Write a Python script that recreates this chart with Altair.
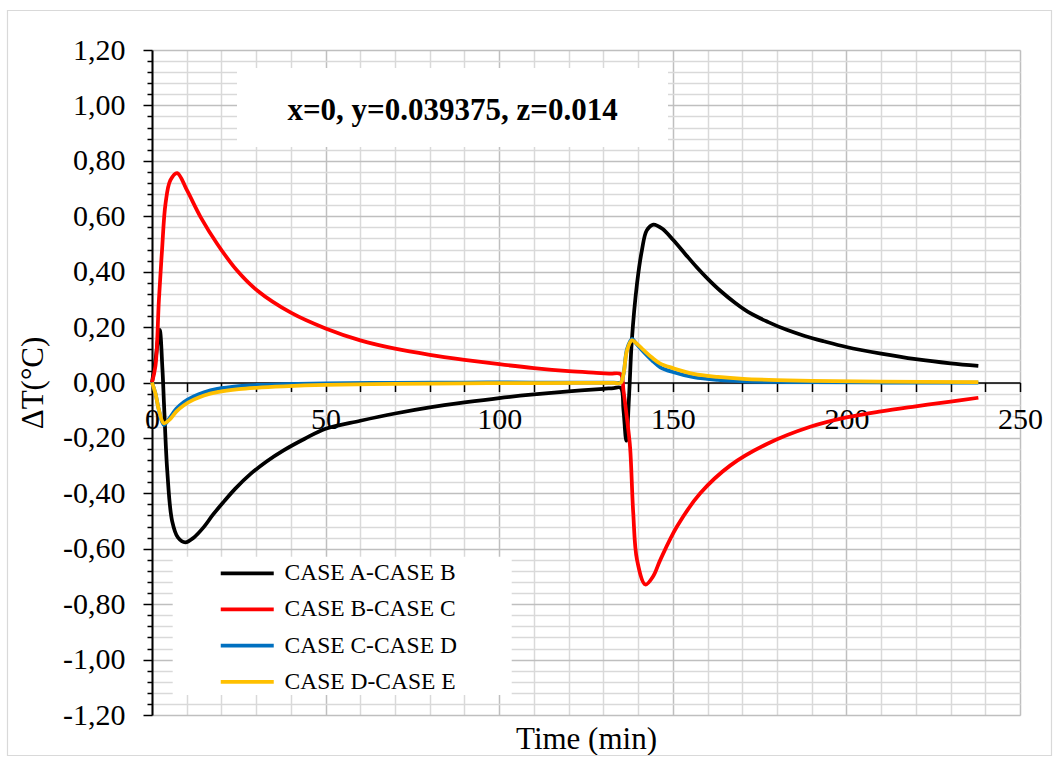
import altair as alt
import pandas as pd

# Series names and their line colours
SERIES = ["CASE A-CASE B", "CASE B-CASE C", "CASE C-CASE D", "CASE D-CASE E"]
COLORS = ["#000000", "#ff0000", "#0070c0", "#ffc000"]

# CASE A-CASE B
t_ab = [0, 1, 2.2, 3.0, 3.5, 4.4, 5.8, 7.5, 9.6, 12, 14.9, 17.5, 20.7, 24, 28.4,
        33, 37.9, 44, 50, 60, 70, 80, 90, 100, 110, 120, 130, 133, 135,
        135.8, 136.6, 137.4, 138.2, 139.7, 141.1, 142.5, 144.4, 147, 150.2,
        153.5, 156.9, 160, 163.6, 168, 172.3, 177.5, 182.8, 188, 193.4, 200,
        210, 220, 230, 238]
dt_ab = [0, 0.08, 0.19, 0.05, -0.09, -0.32, -0.50, -0.56, -0.577, -0.56, -0.522,
         -0.478, -0.43, -0.383, -0.33, -0.285, -0.245, -0.203, -0.167, -0.138,
         -0.112, -0.090, -0.072, -0.056, -0.043, -0.032, -0.023, -0.020, -0.019,
         -0.10, -0.21, -0.05, 0.152, 0.357, 0.477, 0.549, 0.570, 0.555, 0.513,
         0.465, 0.416, 0.375, 0.332, 0.287, 0.250, 0.218, 0.190, 0.168, 0.149,
         0.128, 0.104, 0.084, 0.069, 0.060]

# CASE B-CASE C
t_bc = [0, 1.0, 2.0, 2.9, 3.9, 5.3, 7.25, 10.1, 14, 18.8, 24.5, 30.3, 40, 50,
        60, 70, 80, 90, 100, 110, 120, 128, 132, 135, 135.8, 136.8, 137.7, 138.6,
        139.7, 142.1, 144.3, 146.4, 151.2, 157.9, 166.5, 177.1, 189.6, 200, 210,
        220, 230, 238]
dt_bc = [0, 0.06, 0.30, 0.48, 0.646, 0.73, 0.756, 0.693, 0.597, 0.50, 0.404,
         0.332, 0.252, 0.195, 0.152, 0.122, 0.100, 0.082, 0.066, 0.052, 0.041,
         0.035, 0.032, 0.030, -0.03, -0.13, -0.234, -0.47, -0.64, -0.729, -0.70,
         -0.64, -0.52, -0.40, -0.30, -0.222, -0.160, -0.126, -0.104, -0.086,
         -0.069, -0.055]

# CASE C-CASE D and CASE D-CASE E share the same time steps
t_cd = [0, 1, 2, 3.4, 5, 7, 9.2, 12, 15, 18.8, 25, 30, 37.9, 50, 70, 90, 110,
        125, 133, 135, 135.8, 136.8, 138.2, 139.5, 141.6, 144, 146.4, 150, 156,
        163, 170.3, 180, 190, 210, 238]
dt_cd = [0, -0.04, -0.10, -0.153, -0.13, -0.095, -0.07, -0.05, -0.035, -0.023,
         -0.013, -0.009, -0.006, -0.003, -0.001, 0, 0, 0, 0, 0, 0.03, 0.12,
         0.157, 0.14, 0.110, 0.08, 0.055, 0.038, 0.019, 0.009, 0.004, 0.002,
         0.001, 0, 0]
t_de = t_cd
dt_de = [0, -0.04, -0.10, -0.147, -0.135, -0.105, -0.082, -0.062, -0.047,
         -0.035, -0.024, -0.019, -0.014, -0.009, -0.005, -0.003, -0.002,
         -0.001, -0.001, -0.001, 0.03, 0.115, 0.152, 0.142, 0.117, 0.09, 0.068,
         0.052, 0.031, 0.020, 0.013, 0.009, 0.006, 0.003, 0.001]

TITLE = "x=0, y=0.039375, z=0.014"

frames = []
for name, ts, vs in zip(SERIES, [t_ab, t_bc, t_cd, t_de], [dt_ab, dt_bc, dt_cd, dt_de]):
    frames.append(pd.DataFrame({"t": ts, "dT": vs, "series": name}))
df = pd.concat(frames, ignore_index=True)

FONT = "Liberation Serif"
W, H = 868, 665

x_ticks = list(range(0, 251, 10))
y_ticks = [round(-1.2 + 0.04 * i, 2) for i in range(61)]
y_major = "abs(datum.value*5 - round(datum.value*5)) < 0.001"

x_axis = alt.Axis(
    values=x_ticks,
    grid=True,
    gridColor={"condition": {"test": "datum.value % 50 === 0", "value": "#bfbfbf"},
               "value": "#d9d9d9"},
    gridWidth=1.5,
    domainColor="black", domainWidth=1.5,
    tickColor="black", tickWidth=1.5, tickSize=9,
    labelExpr="datum.value % 50 === 0 ? datum.label : ''",
    labelFont=FONT, labelFontSize=30, labelColor="black",
    labelPadding=13, labelFlush=False, labelOverlap=False,
    offset=-332.5,
    title="Time (min)", titleFont=FONT, titleFontSize=31,
    titleFontWeight="normal", titleColor="black",
    titleBaseline="alphabetic", titleY=366,
)

y_axis = alt.Axis(
    values=y_ticks,
    grid=True,
    gridColor={"condition": {"test": y_major, "value": "#bfbfbf"}, "value": "#d9d9d9"},
    gridWidth=1.5,
    domainColor="black", domainWidth=2,
    tickColor="black", tickWidth=1.5,
    tickSize={"condition": {"test": y_major, "value": 9}, "value": 5},
    labelExpr=("(" + y_major + ") ? ((datum.value < -0.0001 ? '-' : '') + "
               "replace(format(abs(datum.value), '.2f'), '.', ',')) : ''"),
    labelFont=FONT, labelFontSize=30, labelColor="black",
    labelPadding=18, labelFlush=False, labelOverlap=False,
    title="\u0394T(\u00b0C)", titleFont=FONT, titleFontSize=31,
    titleFontWeight="normal", titleColor="black",
    titleX=-119, titleY=H / 2, titleBaseline="middle", titleAlign="center",
    titleAngle=270,
)

# Long horizontal stroke symbol drawn from a custom path
legend = alt.Legend(
    title=None, orient="none", legendX=83.5, legendY=511.5,
    symbolType="M-4,0H4", symbolSize=175.6, symbolStrokeWidth=3.75,
    labelFont=FONT, labelFontSize=23.5, labelColor="black",
    labelLimit=400, labelOffset=25.5, rowPadding=11.2, padding=0,
)

lines = alt.Chart(df).mark_line(interpolate="catmull-rom", strokeWidth=3.75).encode(
    x=alt.X("t:Q", scale=alt.Scale(domain=[0, 250], nice=False, zero=False), axis=x_axis),
    y=alt.Y("dT:Q", scale=alt.Scale(domain=[-1.2, 1.2], nice=False), axis=y_axis),
    color=alt.Color("series:N", scale=alt.Scale(domain=SERIES, range=COLORS), legend=legend),
)

one = alt.Data(values=[{"k": 0}])

# Outer chart frame
frame = alt.Chart(one).mark_rect(fillOpacity=0, stroke="#d9d9d9", strokeWidth=1.2).encode(
    x=alt.value(7.5 - 152), x2=alt.value(1051.5 - 152),
    y=alt.value(10.5 - 50), y2=alt.value(755.5 - 50),
)

# White panels behind the title and the legend
title_box = alt.Chart(one).mark_rect(fill="white").encode(
    x=alt.value(85), x2=alt.value(516), y=alt.value(18), y2=alt.value(97),
)
legend_box = alt.Chart(one).mark_rect(fill="white").encode(
    x=alt.value(20.7), x2=alt.value(359.7), y=alt.value(506.7), y2=alt.value(645),
)

title_text = alt.Chart(one).mark_text(
    text=TITLE, font=FONT, fontSize=31, fontWeight="bold", color="black",
    align="center", baseline="alphabetic",
).encode(x=alt.value(300.5), y=alt.value(69.5))

chart = alt.layer(frame, title_box, legend_box, lines, title_text).properties(
    width=W, height=H,
    padding={"left": 152, "top": 50, "right": 39, "bottom": 45},
    autosize=alt.AutoSizeParams(type="none"),
    background="white",
).configure_view(stroke=None).configure(font=FONT)

chart.save("out.html", embed_options={"renderer": "svg", "actions": False})
